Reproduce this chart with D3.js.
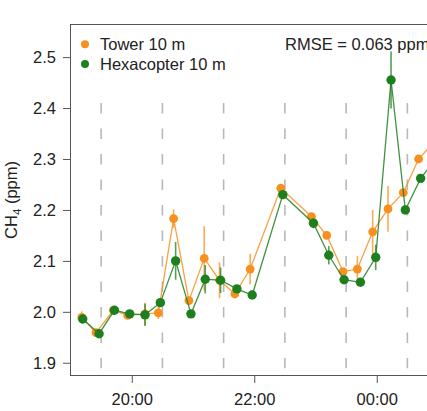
<!DOCTYPE html>
<html>
<head>
<meta charset="utf-8">
<script src="https://cdn.jsdelivr.net/npm/d3@7"></script>
<style>
  html, body { margin: 0; padding: 0; background: #fff; }
  svg { display: block; font-family: "Liberation Sans", Arial, Helvetica, sans-serif; }
</style>
</head>
<body>
<svg id="chart" width="427" height="411"></svg>
<script>
// ---- data ----
const towerTimes  = ["19:11","19:25","19:42","19:56","20:13","20:26","20:41","20:56","21:11","21:26","21:41","21:56","22:26","22:56","23:11","23:27","23:41","23:56","00:11","00:26","00:41","00:57"];
const towerValues = [1.989,1.959,2.003,1.993,1.996,1.998,2.183,2.022,2.105,2.062,2.035,2.084,2.243,2.187,2.150,2.079,2.084,2.157,2.202,2.234,2.300,2.335];
const towerErr    = [0.012,0.006,0.006,0.006,0.022,0.012,0.018,0.008,0.063,0.035,0.006,0.030,0.006,0.006,0.006,0.006,0.026,0.043,0.045,0.006,0.006,0.006];

const hexaTimes   = ["19:12","19:28","19:43","19:58","20:13","20:28","20:43","20:58","21:12","21:27","21:43","21:58","22:28","22:58","23:13","23:28","23:44","23:59","00:14","00:28","00:43","00:58"];
const hexaValues  = [1.986,1.957,2.003,1.996,1.994,2.018,2.100,1.996,2.064,2.062,2.045,2.033,2.230,2.174,2.111,2.063,2.058,2.107,2.455,2.200,2.262,2.300];
const hexaErr     = [0.008,0.006,0.006,0.006,0.022,0.008,0.037,0.006,0.028,0.025,0.006,0.006,0.006,0.010,0.018,0.006,0.006,0.025,0.056,0.008,0.006,0.006];

const xTickLabels = ["20:00","22:00","00:00"];
const dashTimes   = ["19:30","20:30","21:30","22:30","23:30","00:30"];
const yTickValues = [1.9,2.0,2.1,2.2,2.3,2.4,2.5];
const seriesNames = ["Tower 10 m","Hexacopter 10 m"];
const rmseText    = "RMSE = 0.063 ppm";

// ---- helpers ----
function parseT(s) {
  const [h, m] = s.split(":").map(Number);
  return new Date(2020, 0, h < 12 ? 2 : 1, h, m);
}

const colTower = "#F7901E";
const colHexa  = "#1E7F1E";

const svg = d3.select("#chart");
const mLeft = 70.5, mTop = 24.5, mBottom = 375.5;

const x = d3.scaleTime()
  .domain([parseT("19:00"), parseT("01:00")])
  .range([mLeft, mLeft + 367.5]);
const y = d3.scaleLinear()
  .domain([1.875, 2.565])
  .range([mBottom, mTop - 0.5]);

// dashed vertical reference lines
svg.append("g").selectAll("line")
  .data(dashTimes).join("line")
  .attr("x1", d => x(parseT(d))).attr("x2", d => x(parseT(d)))
  .attr("y1", y(2.41)).attr("y2", y(1.889))
  .attr("stroke", "#b8b8b8").attr("stroke-width", 1.6)
  .attr("stroke-dasharray", "10.5,15");

// frame
svg.append("rect")
  .attr("x", mLeft).attr("y", mTop)
  .attr("width", 420).attr("height", mBottom - mTop)
  .attr("fill", "none").attr("stroke", "#555").attr("stroke-width", 1);

// axes
const yAxis = d3.axisLeft(y).tickValues(yTickValues).tickFormat(d3.format(".1f"))
  .tickSize(7.5).tickPadding(7);
const gy = svg.append("g").attr("transform", `translate(${mLeft},0)`).call(yAxis);
gy.select(".domain").remove();
gy.selectAll("line").attr("stroke", "#555");
gy.selectAll("text").attr("font-size", 16.5).attr("fill", "#222")
  .attr("font-family", "Liberation Sans, Arial, sans-serif");

const xAxis = d3.axisBottom(x).tickValues(xTickLabels.map(parseT))
  .tickFormat(d3.timeFormat("%H:%M")).tickSize(7.5).tickPadding(10);
const gx = svg.append("g").attr("transform", `translate(0,${mBottom})`).call(xAxis);
gx.select(".domain").remove();
gx.selectAll("line").attr("stroke", "#555");
gx.selectAll("text").attr("font-size", 16.5).attr("fill", "#222")
  .attr("font-family", "Liberation Sans, Arial, sans-serif");

// y label
const yl = svg.append("text")
  .attr("transform", `translate(17,${(mTop + mBottom) / 2}) rotate(-90)`)
  .attr("text-anchor", "middle").attr("font-size", 16.5).attr("fill", "#222");
yl.append("tspan").text("CH");
yl.append("tspan").text("4").attr("font-size", 11.5).attr("dy", 4);
yl.append("tspan").text(" (ppm)").attr("dy", -4);

// series
function drawSeries(times, vals, errs, col, r) {
  const pts = times.map((t, i) => ({ t: parseT(t), v: vals[i], e: errs[i] }));
  const g = svg.append("g");
  g.selectAll("line.err").data(pts).join("line").attr("class", "err")
    .attr("x1", d => x(d.t)).attr("x2", d => x(d.t))
    .attr("y1", d => y(d.v - d.e)).attr("y2", d => y(d.v + d.e))
    .attr("stroke", col).attr("stroke-width", 1.6).attr("opacity", 0.75);
  g.append("path").datum(pts)
    .attr("d", d3.line().x(d => x(d.t)).y(d => y(d.v)))
    .attr("fill", "none").attr("stroke", col).attr("stroke-width", 1.3).attr("opacity", 0.85);
  g.selectAll("circle").data(pts).join("circle")
    .attr("cx", d => x(d.t)).attr("cy", d => y(d.v)).attr("r", r)
    .attr("fill", col);
}
drawSeries(towerTimes, towerValues, towerErr, colTower, 4.4);
drawSeries(hexaTimes, hexaValues, hexaErr, colHexa, 4.7);

// legend
const legCols = [colTower, colHexa];
const lg = svg.append("g");
lg.selectAll("circle").data(seriesNames).join("circle")
  .attr("cx", 85).attr("cy", (d, i) => 44.3 + i * 19.7).attr("r", 4)
  .attr("fill", (d, i) => legCols[i]);
lg.selectAll("text").data(seriesNames).join("text")
  .attr("x", 100).attr("y", (d, i) => 50 + i * 19.7)
  .attr("font-size", 16.5).attr("fill", "#222").text(d => d);

svg.append("text").attr("x", 285).attr("y", 50)
  .attr("font-size", 16.5).attr("fill", "#222").text(rmseText);
</script>
</body>
</html>
